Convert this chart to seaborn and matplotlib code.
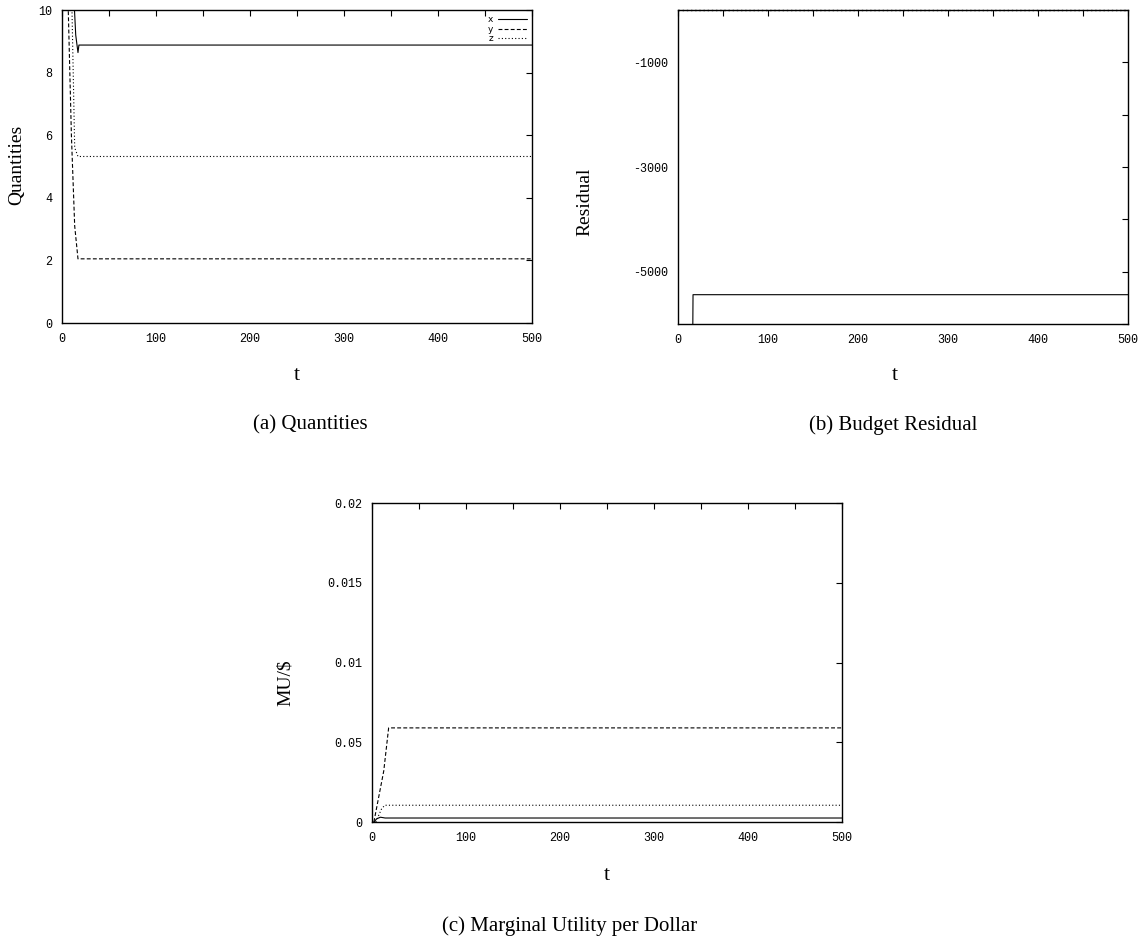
import matplotlib
matplotlib.use("Agg")
import matplotlib.pyplot as plt
import numpy as np
import pandas as pd
import seaborn as sns
from matplotlib.ticker import MultipleLocator

# Panel (a) quantities
qty_t_x = [10, 14.6, 17, 18, 500]
qty_x = [12.0, 9.2, 8.64, 8.88, 8.88]
qty_t_y = [0, 10, 13.5, 17, 500]
qty_y = [18.0, 6.0, 3.1, 2.05, 2.05]
qty_t_z = [0, 8, 13.5, 17, 500]
qty_z = [30.0, 14.0, 5.6, 5.32, 5.32]

# Panel (b) budget residual
res_t_solid = [14, 16.7, 500]
res_solid = [-12000, -5440, -5440]
res_t_dot = [0, 500]
res_dot = [0, 0]

# Panel (c) marginal utility per dollar
mu_t_x = [2, 5, 9, 14, 500]
mu_x = [0.0, 0.0002, 0.0003, 0.00025, 0.00025]
mu_t_y = [2, 12.5, 17.7, 500]
mu_y = [0.0, 0.0032, 0.0059, 0.0059]
mu_t_z = [4, 10, 13.5, 500]
mu_z = [0.0, 0.0008, 0.00105, 0.00105]

x_ticks = [0, 100, 200, 300, 400, 500]
qty_ticks = [0, 2, 4, 6, 8, 10]
res_ticks = [-5000, -3000, -1000]
mu_ticks = [0, 0.005, 0.01, 0.015, 0.02]
mu_tick_labels = ["0", "0.05", "0.01", "0.015", "0.02"]

W, H = 1140, 947
DASH = (0, (3.5, 2))
DOT = (0, (1, 2))
TICK_FONT = {"family": "Liberation Mono", "size": 8.5}
SERIF = "Liberation Serif"


def series(t, v, name):
    return pd.DataFrame({"t": t, "v": v, "s": name})


def style_axes(ax):
    ax.tick_params(which="both", direction="in", top=True, right=True,
                   length=4, width=0.8, pad=7, colors="black")
    for sp in ax.spines.values():
        sp.set_linewidth(1.0)
        sp.set_color("black")
    ax.set_xlabel("")
    ax.set_ylabel("")
    ax.set_xlim(0, 500)
    ax.set_xticks(x_ticks)
    ax.xaxis.set_minor_locator(MultipleLocator(50))
    for lab in ax.get_xticklabels() + ax.get_yticklabels():
        lab.set_fontfamily(TICK_FONT["family"])
        lab.set_fontsize(TICK_FONT["size"])
        lab.set_color("black")


def px_axes(fig, left, top, right, bottom):
    return fig.add_axes([left / W, 1 - bottom / H, (right - left) / W,
                         (bottom - top) / H])


sns.set_style("white")
plt.rcParams["axes.unicode_minus"] = False
plt.rcParams["text.color"] = "black"
fig = plt.figure(figsize=(W / 100, H / 100), dpi=100)

# (a) Quantities
ax_a = px_axes(fig, 62, 10, 532, 323)
for t, v, name, ls in [(qty_t_x, qty_x, "x", "-"),
                       (qty_t_y, qty_y, "y", DASH),
                       (qty_t_z, qty_z, "z", DOT)]:
    d = series(t, v, name)
    sns.lineplot(data=d, x="t", y="v", ax=ax_a, color="black", lw=0.8,
                 linestyle=ls, label=name, estimator=None, sort=False)
ax_a.set_ylim(0, 10)
ax_a.set_yticks(qty_ticks)
style_axes(ax_a)
ax_a.legend(loc="upper right", frameon=False, fontsize=6.5,
            markerfirst=False, handlelength=3.2, labelspacing=0.05,
            borderaxespad=0.2, handletextpad=0.5)

# (b) Budget Residual
ax_b = px_axes(fig, 678, 10, 1128, 324)
sns.lineplot(data=series(res_t_solid, res_solid, "r"), x="t", y="v",
             ax=ax_b, color="black", lw=0.8, estimator=None, sort=False)
sns.lineplot(data=series(res_t_dot, res_dot, "d"), x="t", y="v",
             ax=ax_b, color="black", lw=1.0, linestyle=DOT,
             estimator=None, sort=False)
ax_b.lines[-1].set_clip_on(False)
ax_b.set_ylim(-6000, 0)
ax_b.set_yticks(res_ticks)
ax_b.yaxis.set_minor_locator(MultipleLocator(1000))
style_axes(ax_b)

# (c) Marginal Utility per Dollar
ax_c = px_axes(fig, 372, 503, 842, 822)
for t, v, ls in [(mu_t_x, mu_x, "-"), (mu_t_y, mu_y, DASH),
                 (mu_t_z, mu_z, DOT)]:
    sns.lineplot(data=series(t, v, "m"), x="t", y="v", ax=ax_c,
                 color="black", lw=0.8, linestyle=ls,
                 estimator=None, sort=False)
ax_c.set_ylim(0, 0.02)
ax_c.set_yticks(mu_ticks)
ax_c.set_yticklabels(mu_tick_labels)
style_axes(ax_c)

# axis labels and captions
fig.text(17 / W, 1 - 165 / H, "Quantities", rotation=90, ha="center",
         va="center", family=SERIF, fontsize=14)
fig.text(585 / W, 1 - 202 / H, "Residual", rotation=90, ha="center",
         va="center", family=SERIF, fontsize=14)
fig.text(285 / W, 1 - 683 / H, "MU/$", rotation=90, ha="center",
         va="center", family=SERIF, fontsize=14)
for x, y in [(297, 376), (895, 376), (607, 875)]:
    fig.text(x / W, 1 - y / H, "t", ha="center", va="center",
             family=SERIF, fontsize=16)
fig.text(310 / W, 1 - 425 / H, "(a) Quantities", ha="center", va="center",
         family=SERIF, fontsize=15)
fig.text(893 / W, 1 - 425 / H, "(b) Budget Residual", ha="center",
         va="center", family=SERIF, fontsize=15)
fig.text(570 / W, 1 - 926 / H, "(c) Marginal Utility per Dollar",
         ha="center", va="center", family=SERIF, fontsize=15)

fig.savefig("out.png", dpi=100)
